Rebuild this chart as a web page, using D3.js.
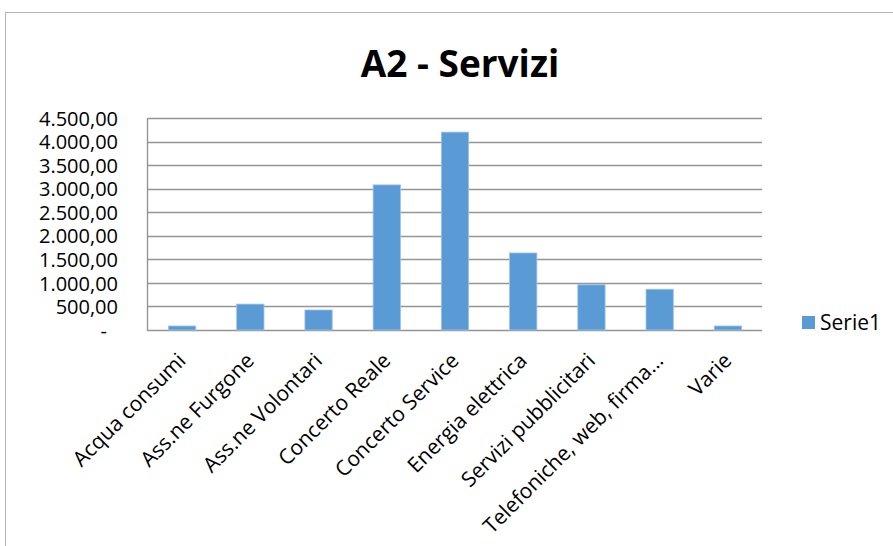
<!DOCTYPE html>
<html>
  <head>
    <title>A2 - Servizi</title>
    <script src="https://d3js.org/d3.v7.min.js"></script>
    <style>
      body { margin: 0; background: #fff; }
      text { font-family: "Open Sans", sans-serif; fill: #000; }
      .title { font-size: 37px; font-weight: bold; }
      .tick-label { font-size: 21px; }
      .y-label { font-size: 20px; }
    </style>
  </head>
  <body>
    <div id="chart"></div>
    <script>
      // Data
      const categories = [
        "Acqua consumi", "Ass.ne Furgone", "Ass.ne Volontari", "Concerto Reale",
        "Concerto Service", "Energia elettrica", "Servizi pubblicitari",
        "Telefoniche, web, firma…", "Varie"
      ];
      const values = [85, 550, 425, 3080, 4200, 1635, 960, 865, 85];
      const yTicks = [0, 500, 1000, 1500, 2000, 2500, 3000, 3500, 4000, 4500];
      const seriesName = "Serie1";

      const W = 893, H = 546;
      const plot = { left: 148, top: 118, right: 762, bottom: 330 };

      const svg = d3.select("#chart").append("svg")
        .attr("width", W).attr("height", H);

      // outer chart frame
      svg.append("rect")
        .attr("x", 5.5).attr("y", 12.5)
        .attr("width", W + 20).attr("height", H + 20)
        .attr("fill", "none").attr("stroke", "#b4b4b4");

      svg.append("text").attr("class", "title")
        .attr("x", 460).attr("y", 77)
        .attr("text-anchor", "middle")
        .text("A2 - Servizi");

      const x = d3.scaleBand().domain(categories)
        .range([plot.left, plot.right]).paddingInner(0.6).paddingOuter(0.3);
      const y = d3.scaleLinear().domain([0, 4500]).range([plot.bottom, plot.top]);

      const fmt = v => v === 0 ? "-" :
        v.toLocaleString("it-IT", { minimumFractionDigits: 2, maximumFractionDigits: 2, useGrouping: true })
          .replace(/(\d)(\d{3}),/, "$1.$2,");

      // gridlines
      svg.append("g").selectAll("line").data(yTicks).join("line")
        .attr("x1", plot.left).attr("x2", plot.right)
        .attr("y1", d => Math.round(y(d)) + 0.5).attr("y2", d => Math.round(y(d)) + 0.5)
        .attr("stroke", "#959595").attr("stroke-width", 1.4);

      // y axis
      const yAxis = svg.append("g")
        .attr("transform", `translate(${plot.left - 30},0)`)
        .call(d3.axisLeft(y).tickValues(yTicks).tickFormat(fmt).tickSize(0).tickPadding(0));
      yAxis.select(".domain").remove();
      yAxis.selectAll("text").attr("class", "y-label")
        .attr("font-family", null).attr("font-size", null)
        .attr("dy", "0.36em")
        .attr("x", d => d === 0 ? -11 : 0);

      svg.append("line")
        .attr("x1", plot.left - 0.5).attr("x2", plot.left - 0.5)
        .attr("y1", plot.top).attr("y2", plot.bottom + 1)
        .attr("stroke", "#959595").attr("stroke-width", 1.4);

      // bars
      svg.append("g").selectAll("rect").data(values).join("rect")
        .attr("x", (d, i) => x(categories[i]))
        .attr("y", d => y(d))
        .attr("width", x.bandwidth())
        .attr("height", d => plot.bottom - y(d))
        .attr("fill", "#5b9bd5")
        .attr("stroke", "#9cc2e8").attr("stroke-width", 0.8);

      // x axis labels
      const xAxis = svg.append("g")
        .attr("transform", `translate(0,${plot.bottom})`)
        .call(d3.axisBottom(x).tickSize(0).tickPadding(0));
      xAxis.select(".domain").remove();
      xAxis.selectAll("text").attr("class", "tick-label")
        .attr("font-family", null).attr("font-size", null)
        .attr("text-anchor", "end")
        .attr("dy", null).attr("y", 0)
        .attr("transform", "translate(5,32) rotate(-45)");

      // legend
      const lg = svg.append("g").attr("transform", "translate(802,316)");
      lg.append("rect").attr("width", 13).attr("height", 13).attr("fill", "#5b9bd5");
      lg.append("text").attr("class", "tick-label").attr("x", 18).attr("y", 14).text(seriesName);
    </script>
  </body>
</html>
